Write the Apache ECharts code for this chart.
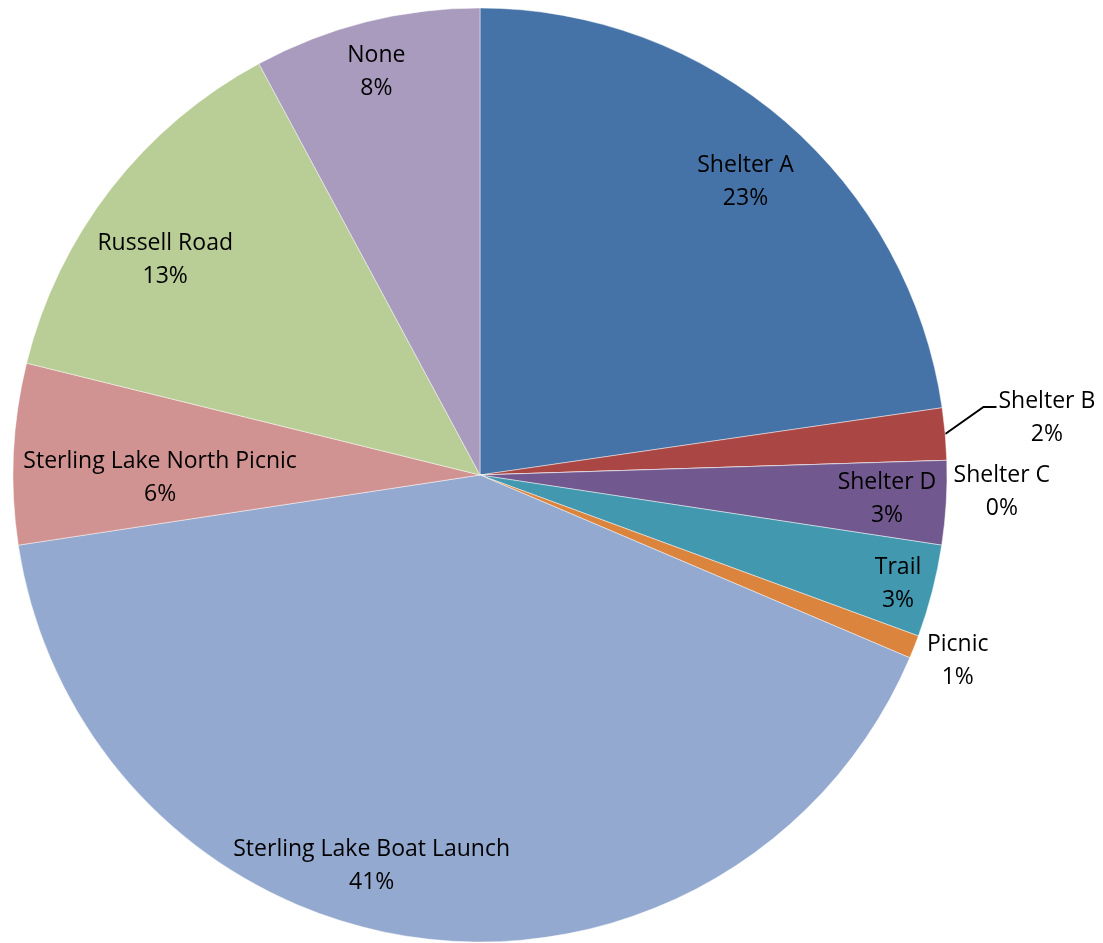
<!DOCTYPE html>
<html><head><meta charset="utf-8">
<script src="https://cdn.jsdelivr.net/npm/echarts@6/dist/echarts.min.js"></script>
<style>html,body{margin:0;padding:0;background:#fff}#c{width:1103px;height:943px}</style>
</head><body><div id="c"></div>
<script>
const categories = ['Shelter A','Shelter B','Shelter C','Shelter D','Trail','Picnic','Sterling Lake Boat Launch','Sterling Lake North Picnic','Russell Road','None'];
const values = [22.7,1.8,0,2.9,3.2,0.8,41.2,6.25,13.3,7.85];
const colors = ['#4572A7','#AA4643','#89A54E','#71588F','#4198AF','#DB843D','#93A9CF','#D19392','#B9CD96','#A99BBD'];
// label placement: radial distance (fraction of radius) and angular shift (deg) from slice middle
const labelRadius = [0.847,1.22,1.118,0.873,0.925,1.098,0.868,0.685,0.816,0.891];
const labelShift = [1.3,-0.7,3.7,0,0.2,-0.3,8.3,-3.1,-3.5,-0.3];
const CX=480, CY=475, R=467;
const total = values.reduce((a,b)=>a+b,0);
const mids = []; let acc=0;
values.forEach(v=>{ mids.push((acc+v/2)/total*360); acc+=v; });
function polar(rad, deg){ const a=deg*Math.PI/180; return [CX+rad*Math.sin(a), CY-rad*Math.cos(a)]; }
const chart = echarts.init(document.getElementById('c'));
chart.setOption({
  animation:false,
  series:[{
    type:'pie', center:[CX,CY], radius:[0,R], startAngle:90, clockwise:true,
    avoidLabelOverlap:false, percentPrecision:0,
    data: categories.map((n,i)=>({name:n, value:values[i], itemStyle:{color:colors[i]},
      label: i===1?{position:'outside'}:{}, labelLine:{show:i===1}})),
    label:{show:true, position:'inside', formatter:'{b}\n{d}%', fontFamily:'Open Sans', fontSize:23, lineHeight:33, color:'#000', overflow:'none'},
    labelLine:{show:false, lineStyle:{color:'#000', width:2}, length:20, length2:15},
    itemStyle:{borderColor:'rgba(255,255,255,0.45)', borderWidth:1},
    emphasis:{disabled:true},
    labelLayout:function(p){
      const i=p.dataIndex;
      const pos=polar(labelRadius[i]*R, mids[i]+labelShift[i]);
      const o={x:pos[0], y:pos[1], align:'center', verticalAlign:'middle'};
      if(i===1){
        const w=p.labelRect.width;
        const left=pos[0]-w/2;
        const p2=[left-2,pos[1]-11];
        const p1=[p2[0]-13,p2[1]];
        const p0=polar(R, mids[i]);
        o.labelLinePoints=[p0,p1,p2];
      }
      return o;
    }
  }]
});
</script>
</body></html>
